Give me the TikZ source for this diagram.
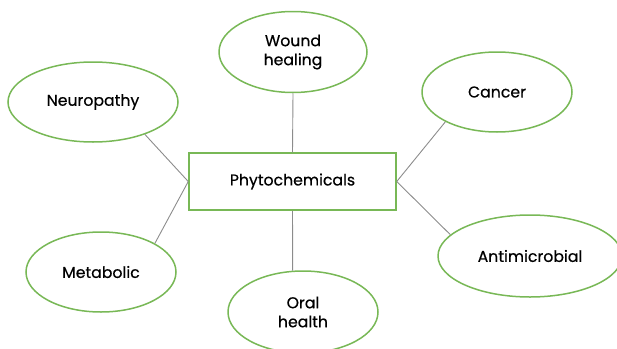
\documentclass[tikz,border=0pt]{standalone}
\usepackage{fontspec}
\setmainfont{Poppins}
\newfontfamily\labelfont{Poppins}[RawFeature={embolden=0.5}]
\usetikzlibrary{shapes.geometric}
\definecolor{leafgreen}{HTML}{78B856}
\definecolor{linkgray}{HTML}{8C8C8C}
\tikzset{
  topicbox/.style={draw=leafgreen, line width=1.5pt, fill=white, align=center, minimum width=207pt, minimum height=57pt, inner sep=0pt, font=\labelfont\fontsize{15.7}{19}\selectfont, text=black},
  leafnode/.style={ellipse, draw=leafgreen, line width=1.5pt, fill=white, align=center, minimum width=150pt, minimum height=80pt, inner sep=0pt, font=\labelfont\fontsize{15.7}{19}\selectfont, text=black},
  linkline/.style={draw=linkgray, line width=0.9pt},
}

\begin{document}
\begin{tikzpicture}
    \useasboundingbox (0pt,0pt) rectangle (617pt,-348pt);
    \node[topicbox] (phyto) at (292.5pt,-181.5pt) {Phytochemicals};
    \node[leafnode, minimum width=148pt, minimum height=81pt] (wound) at (293pt,-52pt) {Wound\\healing};
    \node[leafnode, minimum width=170pt] (neuro) at (93pt,-102pt) {Neuropathy};
    \node[leafnode] (cancer) at (497pt,-92pt) {Cancer};
    \node[leafnode, minimum width=184pt, minimum height=82pt] (antimic) at (530pt,-256pt) {Antimicrobial};
    \node[leafnode] (metab) at (101pt,-272pt) {Metabolic};
    \node[leafnode, minimum height=82pt] (oral) at (303pt,-312pt) {Oral\\health};
    \draw[linkline] (phyto.north) -- (wound.south);
    \draw[linkline] (phyto.south) -- (oral.104);
    \draw[linkline] (phyto.west) -- (neuro.-32);
    \draw[linkline] (phyto.west) -- (metab.28);
    \draw[linkline] (phyto.east) -- (cancer.210);
    \draw[linkline] (phyto.east) -- (antimic.165);
\end{tikzpicture}
\end{document}
